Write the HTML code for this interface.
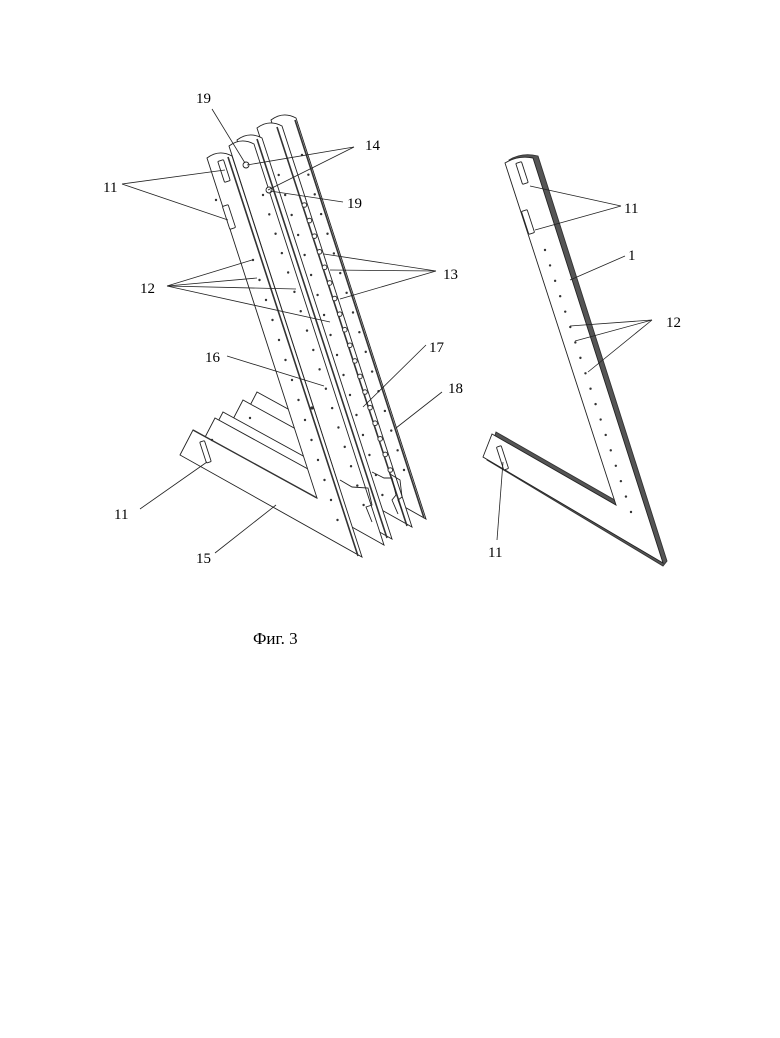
<!DOCTYPE html>
<html><head><meta charset="utf-8">
<style>
html,body{margin:0;padding:0;background:#fff;}
svg{display:block;}
text{font-family:"Liberation Serif",serif;font-size:15px;fill:#000;}
</style></head>
<body>
<svg id="s" width="780" height="1038" viewBox="0 0 780 1038" xmlns="http://www.w3.org/2000/svg">
<defs>
<path id="L" d="M207,158 Q219,149 232,156 L362,557 L180,455 L193,430 L317,498 Z"/>
</defs>
<g fill="#fff" stroke="#222" stroke-width="0.9">
  <use href="#L" transform="translate(64,-38)"/>
  <line x1="295" y1="120" x2="424" y2="518" stroke="#333" stroke-width="1.6"/>
  <use href="#L" transform="translate(50,-30)"/>
  <line x1="277" y1="127" x2="407" y2="526" stroke="#333" stroke-width="1.6"/>
  <use href="#L" transform="translate(30,-18)"/>
  <line x1="257" y1="139" x2="387" y2="538" stroke="#333" stroke-width="1.6"/>
  <use href="#L" transform="translate(22,-12)"/>
  <use href="#L" transform="translate(0,0)"/>
  <line x1="228" y1="157" x2="358" y2="556" stroke="#333" stroke-width="1.6"/>
  <line x1="193" y1="430" x2="317" y2="498" stroke="#333" stroke-width="1.4"/>
  <rect x="221" y="160" width="6" height="22" rx="1" transform="rotate(-18 224 171)"/>
  <rect x="226" y="205" width="6" height="24" rx="1" transform="rotate(-18 229 217)"/>
  <rect x="203" y="441" width="5" height="22" rx="1" transform="rotate(-18 205 452)"/>
  <!-- notches -->
  <polyline points="340,480 352,487 368,488 372,505 366,507 372,522" fill="none"/>
  <polyline points="372,472 384,478 392,478 396,495 392,500 398,514" fill="none"/>
  <polyline points="390,474 400,480 402,497 398,500 402,510" fill="none"/>
  <path d="M509,160 Q522,152 538,156 L667,561 L663,566 L487,460 L496,432 L620,503 Z" fill="#555" stroke="#333"/>
  <path d="M505,163 Q518,155 533,158 L663,563 L483,457 L492,434 L616,505 Z" fill="#fff" stroke="#222"/>
  <rect x="519" y="162" width="6" height="22" rx="1" transform="rotate(-18 522 173)"/>
  <rect x="525" y="210" width="6" height="24" rx="1" transform="rotate(-18 528 222)"/>
  <rect x="500" y="446" width="5" height="24" rx="1" transform="rotate(-18 502 458)"/>
  <circle cx="246" cy="165" r="3"/>
  <circle cx="269" cy="190" r="3"/>
</g>
<g id="dots" fill="#333"></g>
<g stroke="#222" stroke-width="0.8" fill="none">
  <line x1="122" y1="184" x2="225" y2="170"/><line x1="122" y1="184" x2="228" y2="220"/>
  <line x1="167" y1="286" x2="252" y2="260"/><line x1="167" y1="286" x2="257" y2="278"/>
  <line x1="167" y1="286" x2="296" y2="289"/><line x1="167" y1="286" x2="330" y2="322"/>
  <line x1="354" y1="147" x2="247" y2="165"/><line x1="354" y1="147" x2="268" y2="190"/>
  <line x1="212" y1="109" x2="245" y2="163"/>
  <line x1="343" y1="202" x2="270" y2="191"/>
  <line x1="436" y1="271" x2="324" y2="254"/><line x1="436" y1="271" x2="330" y2="270"/>
  <line x1="436" y1="271" x2="340" y2="299"/>
  <line x1="227" y1="356" x2="324" y2="386"/>
  <line x1="426" y1="345" x2="363" y2="407"/>
  <line x1="442" y1="392" x2="396" y2="428"/>
  <line x1="140" y1="509" x2="207" y2="462"/>
  <line x1="215" y1="553" x2="276" y2="505"/>
  <line x1="621" y1="206" x2="530" y2="186"/><line x1="621" y1="206" x2="535" y2="230"/>
  <line x1="625" y1="256" x2="570" y2="280"/>
  <line x1="652" y1="320" x2="570" y2="326"/><line x1="652" y1="320" x2="575" y2="341"/>
  <line x1="652" y1="320" x2="588" y2="372"/>
  <line x1="497" y1="540" x2="503" y2="462"/>
</g>
<text x="196" y="103">19</text>
<text x="365" y="150">14</text>
<text x="347" y="208">19</text>
<text x="103" y="192">11</text>
<text x="140" y="293">12</text>
<text x="443" y="279">13</text>
<text x="205" y="362">16</text>
<text x="429" y="352">17</text>
<text x="448" y="393">18</text>
<text x="114" y="519">11</text>
<text x="196" y="563">15</text>
<text x="624" y="213">11</text>
<text x="628" y="260">1</text>
<text x="666" y="327">12</text>
<text x="488" y="557">11</text>
<text x="253" y="644" style="font-size:17px">Фиг. 3</text>
</svg>
<script>
var g=document.getElementById('dots'),NS='http://www.w3.org/2000/svg';
function row(x1,y1,x2,y2,n,r,stroke){for(var i=0;i<n;i++){var c=document.createElementNS(NS,'circle');
var t=n>1?i/(n-1):0;
c.setAttribute('cx',x1+(x2-x1)*t);c.setAttribute('cy',y1+(y2-y1)*t);c.setAttribute('r',r);
if(stroke){c.setAttribute('fill','#fff');c.setAttribute('stroke','#333');c.setAttribute('stroke-width','1');}
g.appendChild(c);}}
row(253,260,337.5,520,14,1.2);
row(216,200,216,200,1,1.2);
row(263,195,363.6,505,17,1.2);
row(278.7,175,382.4,495,17,1.2);
row(304.4,205,390.3,470,18,2.3,true);
row(302,155,404,470,17,1.2);
row(545,250,631,512,18,1.2);
row(212,440,212,440,1,1.2);
row(250,418,250,418,1,1.2);
row(312,408,312,408,1,1.6);
</script>
</body></html>
